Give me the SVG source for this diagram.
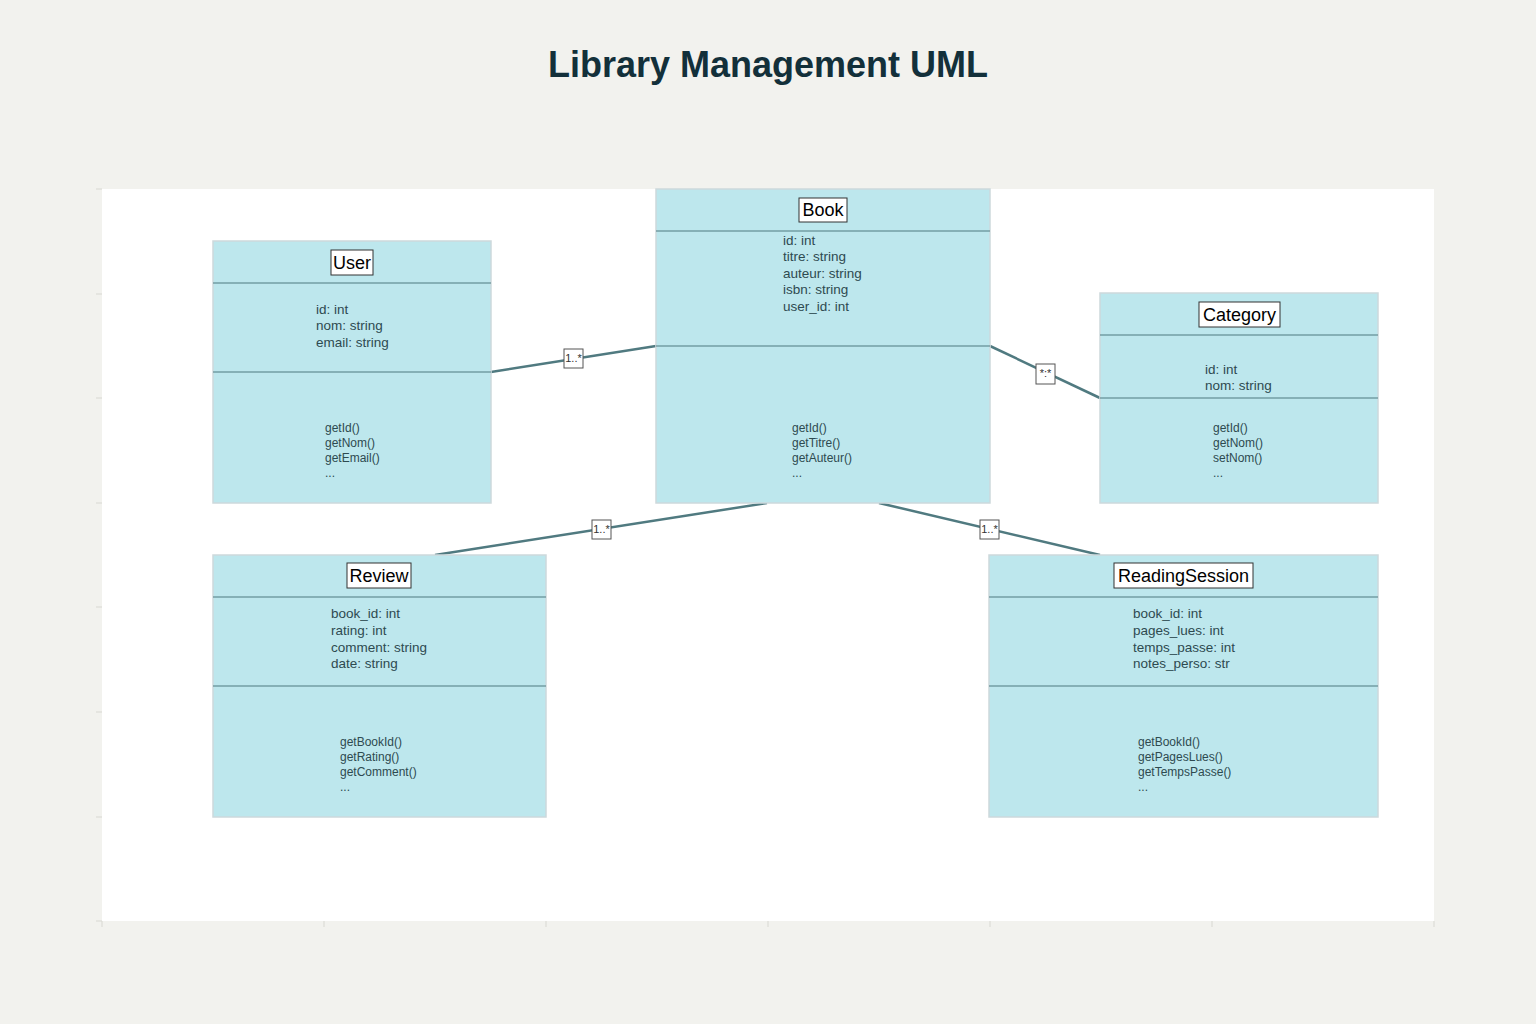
<svg xmlns="http://www.w3.org/2000/svg" width="1536" height="1024" viewBox="0 0 1536 1024">
<style>
.cls{fill:#bde7ed;stroke:#cdd9dc;stroke-width:1.5}
.div{stroke:#4f7a80;stroke-width:1.2}
.nb{fill:#ffffff;stroke:#333;stroke-width:1}
.nt{font-family:"Liberation Sans",Arial,sans-serif;font-size:18px;fill:#000;text-anchor:middle}
.at{font-family:"Liberation Sans",Arial,sans-serif;font-size:13.5px;fill:#2e4a50}
.mt{font-family:"Liberation Sans",Arial,sans-serif;font-size:12px;fill:#2e4a50}
.conn{stroke:#507a80;stroke-width:2.5;fill:none}
.lb{fill:#fff;stroke:#555;stroke-width:1}
.lt{font-family:"Liberation Sans",Arial,sans-serif;font-size:11px;fill:#333;text-anchor:middle}
.tick{stroke:#d8d8d2;stroke-width:1}
</style>
<rect x="0" y="0" width="1536" height="1024" fill="#f2f2ee"/>
<text x="768" y="77" font-family="'Liberation Sans',Arial,sans-serif" font-size="36" font-weight="bold" fill="#13303a" text-anchor="middle">Library Management UML</text>
<rect x="102" y="189" width="1332" height="732" fill="#ffffff"/>
<g id="ticks">
<line class="tick" x1="96" y1="189" x2="102" y2="189"/>
<line class="tick" x1="96" y1="294" x2="102" y2="294"/>
<line class="tick" x1="96" y1="398" x2="102" y2="398"/>
<line class="tick" x1="96" y1="503" x2="102" y2="503"/>
<line class="tick" x1="96" y1="607" x2="102" y2="607"/>
<line class="tick" x1="96" y1="712" x2="102" y2="712"/>
<line class="tick" x1="96" y1="817" x2="102" y2="817"/>
<line class="tick" x1="96" y1="921" x2="102" y2="921"/>
<line class="tick" x1="102" y1="921" x2="102" y2="927"/>
<line class="tick" x1="324" y1="921" x2="324" y2="927"/>
<line class="tick" x1="546" y1="921" x2="546" y2="927"/>
<line class="tick" x1="768" y1="921" x2="768" y2="927"/>
<line class="tick" x1="990" y1="921" x2="990" y2="927"/>
<line class="tick" x1="1212" y1="921" x2="1212" y2="927"/>
<line class="tick" x1="1434" y1="921" x2="1434" y2="927"/>
</g>
<g id="connectors">
<line class="conn" x1="491" y1="372" x2="656" y2="346"/>
<line class="conn" x1="990" y1="346" x2="1100" y2="398"/>
<line class="conn" x1="767" y1="503" x2="435" y2="555"/>
<line class="conn" x1="879" y1="503" x2="1100" y2="555"/>
</g>
<g id="user">
<rect class="cls" x="213" y="241" width="278" height="262"/>
<line class="div" x1="213" y1="283" x2="491" y2="283"/>
<line class="div" x1="213" y1="372" x2="491" y2="372"/>
<rect class="nb" x="331" y="250" width="42" height="25"/>
<text class="nt" x="352" y="269">User</text>
<text class="at" x="316" y="314">id: int</text>
<text class="at" x="316" y="330">nom: string</text>
<text class="at" x="316" y="347">email: string</text>
<text class="mt" x="325" y="432">getId()</text>
<text class="mt" x="325" y="447">getNom()</text>
<text class="mt" x="325" y="462">getEmail()</text>
<text class="mt" x="325" y="477" font-size="9">...</text>
</g>
<g id="book">
<rect class="cls" x="656" y="189" width="334" height="314"/>
<line class="div" x1="656" y1="231" x2="990" y2="231"/>
<line class="div" x1="656" y1="346" x2="990" y2="346"/>
<rect class="nb" x="799" y="198" width="48" height="24"/>
<text class="nt" x="823" y="216">Book</text>
<text class="at" x="783" y="245">id: int</text>
<text class="at" x="783" y="261">titre: string</text>
<text class="at" x="783" y="278">auteur: string</text>
<text class="at" x="783" y="294">isbn: string</text>
<text class="at" x="783" y="311">user_id: int</text>
<text class="mt" x="792" y="432">getId()</text>
<text class="mt" x="792" y="447">getTitre()</text>
<text class="mt" x="792" y="462">getAuteur()</text>
<text class="mt" x="792" y="477" font-size="9">...</text>
</g>
<g id="category">
<rect class="cls" x="1100" y="293" width="278" height="210"/>
<line class="div" x1="1100" y1="335" x2="1378" y2="335"/>
<line class="div" x1="1100" y1="398" x2="1378" y2="398"/>
<rect class="nb" x="1199" y="302" width="81" height="25"/>
<text class="nt" x="1239.5" y="321">Category</text>
<text class="at" x="1205" y="374">id: int</text>
<text class="at" x="1205" y="390">nom: string</text>
<text class="mt" x="1213" y="432">getId()</text>
<text class="mt" x="1213" y="447">getNom()</text>
<text class="mt" x="1213" y="462">setNom()</text>
<text class="mt" x="1213" y="477" font-size="9">...</text>
</g>
<g id="review">
<rect class="cls" x="213" y="555" width="333" height="262"/>
<line class="div" x1="213" y1="597" x2="546" y2="597"/>
<line class="div" x1="213" y1="686" x2="546" y2="686"/>
<rect class="nb" x="347" y="563" width="64" height="25"/>
<text class="nt" x="379" y="582">Review</text>
<text class="at" x="331" y="618">book_id: int</text>
<text class="at" x="331" y="635">rating: int</text>
<text class="at" x="331" y="652">comment: string</text>
<text class="at" x="331" y="668">date: string</text>
<text class="mt" x="340" y="746">getBookId()</text>
<text class="mt" x="340" y="761">getRating()</text>
<text class="mt" x="340" y="776">getComment()</text>
<text class="mt" x="340" y="791" font-size="9">...</text>
</g>
<g id="readingsession">
<rect class="cls" x="989" y="555" width="389" height="262"/>
<line class="div" x1="989" y1="597" x2="1378" y2="597"/>
<line class="div" x1="989" y1="686" x2="1378" y2="686"/>
<rect class="nb" x="1114" y="563" width="139" height="25"/>
<text class="nt" x="1183.5" y="582" font-size="17.5">ReadingSession</text>
<text class="at" x="1133" y="618">book_id: int</text>
<text class="at" x="1133" y="635">pages_lues: int</text>
<text class="at" x="1133" y="652">temps_passe: int</text>
<text class="at" x="1133" y="668">notes_perso: str</text>
<text class="mt" x="1138" y="746">getBookId()</text>
<text class="mt" x="1138" y="761">getPagesLues()</text>
<text class="mt" x="1138" y="776">getTempsPasse()</text>
<text class="mt" x="1138" y="791" font-size="9">...</text>
</g>
<g id="labels">
<rect class="lb" x="564" y="349" width="19" height="19"/>
<text class="lt" x="573.5" y="362">1..*</text>
<rect class="lb" x="1036" y="364" width="19" height="20"/>
<text class="lt" x="1045.5" y="377" font-size="9">*:*</text>
<rect class="lb" x="592" y="520" width="19" height="19"/>
<text class="lt" x="601.5" y="533">1..*</text>
<rect class="lb" x="980" y="520" width="19" height="19"/>
<text class="lt" x="989.5" y="533">1..*</text>
</g>
</svg>
